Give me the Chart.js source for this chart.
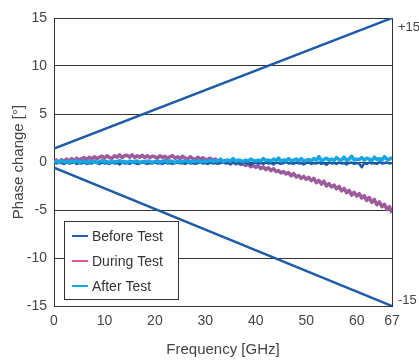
<!DOCTYPE html>
<html>
<head>
<meta charset="utf-8">
<script src="https://cdn.jsdelivr.net/npm/chart.js@4/dist/chart.umd.min.js"></script>
<style>
  body { margin: 0; background: #fff; }
  #wrap { width: 419px; height: 363px; position: relative; }
</style>
</head>
<body>
<div id="wrap"><canvas id="phase_chart"></canvas></div>
<script>
// frequency points (GHz) for the measured traces
const freq = [
  0,0.5,1,1.5,2,2.5,3,3.5,4,4.5,5,5.5,6,6.5,7,7.5,8,8.5,9,9.5,10,
  10.5,11,11.5,12,12.5,13,13.5,14,14.5,15,15.5,16,16.5,17,17.5,18,18.5,19,19.5,20,
  20.5,21,21.5,22,22.5,23,23.5,24,24.5,25,25.5,26,26.5,27,27.5,28,28.5,29,29.5,30,
  30.5,31,31.5,32,32.5,33,33.5,34,34.5,35,35.5,36,36.5,37,37.5,38,38.5,39,39.5,40,
  40.5,41,41.5,42,42.5,43,43.5,44,44.5,45,45.5,46,46.5,47,47.5,48,48.5,49,49.5,50,
  50.5,51,51.5,52,52.5,53,53.5,54,54.5,55,55.5,56,56.5,57,57.5,58,58.5,59,59.5,60,
  60.5,61,61.5,62,62.5,63,63.5,64,64.5,65,65.5,66,66.5,67
];

const beforeTest = [
  -0.05,-0.15,0.0,-0.1,-0.2,-0.05,-0.15,-0.1,0.0,-0.2,-0.1,-0.15,-0.05,-0.2,-0.1,-0.15,0.0,-0.1,-0.2,-0.05,-0.15,
  -0.1,-0.2,-0.05,-0.15,-0.1,-0.25,-0.05,-0.15,-0.1,-0.2,-0.05,-0.1,-0.2,-0.15,-0.05,-0.1,-0.2,-0.1,-0.15,-0.05,
  -0.15,-0.1,-0.2,-0.05,-0.15,-0.1,-0.2,-0.1,-0.05,-0.15,-0.1,-0.2,-0.05,-0.15,-0.1,-0.2,-0.1,-0.05,-0.15,-0.1,
  -0.2,-0.05,-0.15,-0.1,-0.2,-0.1,0.0,-0.15,-0.1,-0.25,-0.05,-0.15,-0.1,-0.2,-0.05,-0.1,-0.15,-0.3,-0.05,-0.1,
  -0.15,-0.1,-0.2,-0.05,-0.15,-0.1,-0.25,-0.05,-0.1,-0.2,-0.1,0.0,-0.15,-0.1,-0.2,-0.05,-0.15,-0.1,-0.25,-0.1,
  -0.05,-0.2,-0.1,-0.15,-0.05,-0.2,-0.1,-0.3,-0.05,-0.15,-0.1,-0.2,-0.05,-0.15,-0.1,-0.25,-0.1,-0.05,-0.2,-0.1,
  -0.15,-0.55,-0.1,-0.2,-0.05,-0.15,-0.1,-0.2,0.0,-0.15,-0.1,-0.05,-0.15,-0.1
];

const duringTest = [
  0.05,0.2,-0.05,0.25,0.05,0.3,0.1,0.35,0.15,0.4,0.2,0.35,0.45,0.25,0.5,0.3,0.55,0.35,0.5,0.6,0.4,
  0.65,0.45,0.4,0.65,0.5,0.75,0.45,0.65,0.7,0.5,0.75,0.45,0.65,0.5,0.7,0.45,0.65,0.45,0.6,0.55,
  0.4,0.65,0.45,0.6,0.35,0.55,0.65,0.4,0.55,0.35,0.6,0.4,0.3,0.55,0.35,0.25,0.5,0.3,0.45,0.25,
  0.3,0.4,0.15,0.3,0.05,0.25,0.0,0.15,-0.05,0.0,0.1,-0.2,-0.05,-0.25,-0.2,-0.35,-0.2,-0.5,-0.35,-0.55,
  -0.4,-0.7,-0.5,-0.8,-0.6,-0.9,-0.7,-1.0,-0.9,-1.15,-1.0,-1.25,-1.1,-1.45,-1.2,-1.55,-1.4,-1.7,-1.5,-1.8,
  -1.6,-1.95,-1.7,-2.15,-1.9,-2.3,-2.0,-2.5,-2.25,-2.6,-2.4,-2.8,-2.55,-3.0,-2.75,-3.2,-2.95,-3.45,-3.15,-3.55,
  -3.3,-3.75,-3.5,-4.0,-3.7,-4.2,-3.9,-4.45,-4.15,-4.65,-4.4,-4.95,-4.65,-5.3
];

const afterTest = [
  0.0,0.1,-0.05,0.15,0.0,0.05,-0.05,0.1,0.0,0.15,-0.05,0.05,0.1,-0.05,0.05,0.0,0.1,-0.05,0.05,0.15,0.0,
  0.05,-0.05,0.1,0.0,0.05,0.15,0.0,0.05,-0.05,0.1,0.0,0.05,0.1,-0.05,0.05,0.0,0.1,0.05,-0.05,0.05,
  0.1,0.0,0.05,0.15,0.0,0.1,0.05,-0.05,0.1,0.0,0.05,0.15,0.05,0.0,0.1,0.05,0.15,0.0,0.1,0.05,
  0.1,0.2,0.05,0.15,0.1,0.3,0.05,0.15,0.2,0.1,0.35,0.1,0.2,0.15,0.05,0.2,0.1,0.3,0.15,0.1,
  0.2,0.1,0.35,0.15,0.2,0.1,0.3,0.15,0.4,0.1,0.2,0.15,0.35,0.1,0.2,0.3,0.15,0.35,0.1,0.2,
  0.25,0.15,0.35,0.2,0.55,0.15,0.25,0.4,0.2,0.3,0.15,0.45,0.25,0.2,0.5,0.15,0.3,0.6,0.2,0.3,
  0.25,0.45,0.2,0.4,0.3,0.15,0.5,0.25,0.35,0.2,0.55,0.3,0.25,0.5
];

// spec limit lines
const limitFreq = [0, 67];
const limitUpper = [1.4, 15];
const limitLower = [-0.6, -15];
const limitLabels = ['+15', '-15'];

const xTicks = [0, 10, 20, 30, 40, 50, 60, 67];
const seriesNames = ['Before Test', 'During Test', 'After Test'];

const toPts = (xs, ys) => xs.map((x, i) => ({x: x, y: ys[i]}));

const darkBlue = '#1c5ba7';
const purple = '#9d5b9c';
const cyan = '#18a6e0';
const legendColors = [darkBlue, '#e3559f', cyan];

const extras = {
    id: 'extras',
    afterDatasetsDraw(chart) {
        const ctx = chart.ctx;
        const a = chart.chartArea;
        const ys = chart.scales.y;
        ctx.save();
        // right frame line
        ctx.strokeStyle = '#333';
        ctx.lineWidth = 1;
        ctx.beginPath();
        ctx.moveTo(a.right + 0.5, a.top);
        ctx.lineTo(a.right + 0.5, a.bottom);
        ctx.stroke();

        // +15 / -15 labels on the right
        ctx.fillStyle = '#444';
        ctx.font = '13px "Liberation Sans", Arial, sans-serif';
        ctx.textBaseline = 'middle';
        ctx.textAlign = 'left';
        ctx.fillText(limitLabels[0], a.right + 6, ys.getPixelForValue(limitUpper[1]) + 9);
        ctx.fillText(limitLabels[1], a.right + 6, ys.getPixelForValue(limitLower[1]) - 6);

        // legend box
        const bx = 64, by = 221, bw = 114, bh = 78;
        ctx.fillStyle = '#fff';
        ctx.fillRect(bx, by, bw, bh);
        ctx.strokeStyle = '#333';
        ctx.strokeRect(bx + 0.5, by + 0.5, bw, bh);
        ctx.font = '14px "Liberation Sans", Arial, sans-serif';
        seriesNames.forEach((name, i) => {
            const yy = by + 15 + i * 25;
            ctx.strokeStyle = legendColors[i];
            ctx.lineWidth = 2;
            ctx.beginPath();
            ctx.moveTo(bx + 8, yy);
            ctx.lineTo(bx + 24, yy);
            ctx.stroke();
            ctx.fillStyle = '#333';
            ctx.fillText(name, bx + 28, yy + 1);
        });
        ctx.restore();
    }
};

const ctx = document.getElementById('phase_chart').getContext('2d');
const myChart = new Chart(ctx, {
    type: 'line',
    data: {
        datasets: [
            {label: 'upper', data: toPts(limitFreq, limitUpper), borderColor: darkBlue, borderWidth: 2.5, order: 0},
            {label: 'lower', data: toPts(limitFreq, limitLower), borderColor: darkBlue, borderWidth: 2.5, order: 0},
            {label: seriesNames[1], data: toPts(freq, duringTest), borderColor: purple, borderWidth: 3.5,
             borderJoinStyle: 'round', order: 3},
            {label: seriesNames[0], data: toPts(freq, beforeTest), borderColor: darkBlue, borderWidth: 2.5,
             borderJoinStyle: 'round', order: 2},
            {label: seriesNames[2], data: toPts(freq, afterTest), borderColor: cyan, borderWidth: 3.5,
             borderJoinStyle: 'round', order: 1}
        ]
    },
    options: {
        responsive: true,
        maintainAspectRatio: false,
        animation: false,
        layout: {padding: {left: 0, right: 27, top: 18, bottom: 0}},
        elements: {point: {radius: 0}, line: {tension: 0}},
        plugins: {legend: {display: false}, tooltip: {enabled: false}},
        scales: {
            x: {
                type: 'linear',
                min: 0,
                max: 67,
                afterBuildTicks: (s) => { s.ticks = xTicks.map(v => ({value: v})); },
                afterFit: (s) => { s.height = 57; },
                grid: {display: false, drawTicks: false},
                border: {display: true, color: '#333', width: 1},
                ticks: {padding: 7, color: '#444', maxRotation: 0, autoSkip: false,
                        font: {family: '"Liberation Sans", Arial, sans-serif', size: 14}},
                title: {display: true, text: 'Frequency [GHz]', color: '#444',
                        padding: {top: 0, bottom: 4},
                        font: {family: '"Liberation Sans", Arial, sans-serif', size: 15}}
            },
            y: {
                min: -15,
                max: 15,
                afterFit: (s) => { s.width = 54; },
                grid: {color: '#333', lineWidth: 1, drawTicks: false},
                border: {display: true, color: '#333', width: 1},
                ticks: {stepSize: 5, padding: 7, color: '#444',
                        font: {family: '"Liberation Sans", Arial, sans-serif', size: 14}},
                title: {display: true, text: 'Phase change [°]', color: '#444',
                        padding: {top: 10, bottom: 0},
                        font: {family: '"Liberation Sans", Arial, sans-serif', size: 15}}
            }
        }
    },
    plugins: [extras]
});
</script>
</body>
</html>
